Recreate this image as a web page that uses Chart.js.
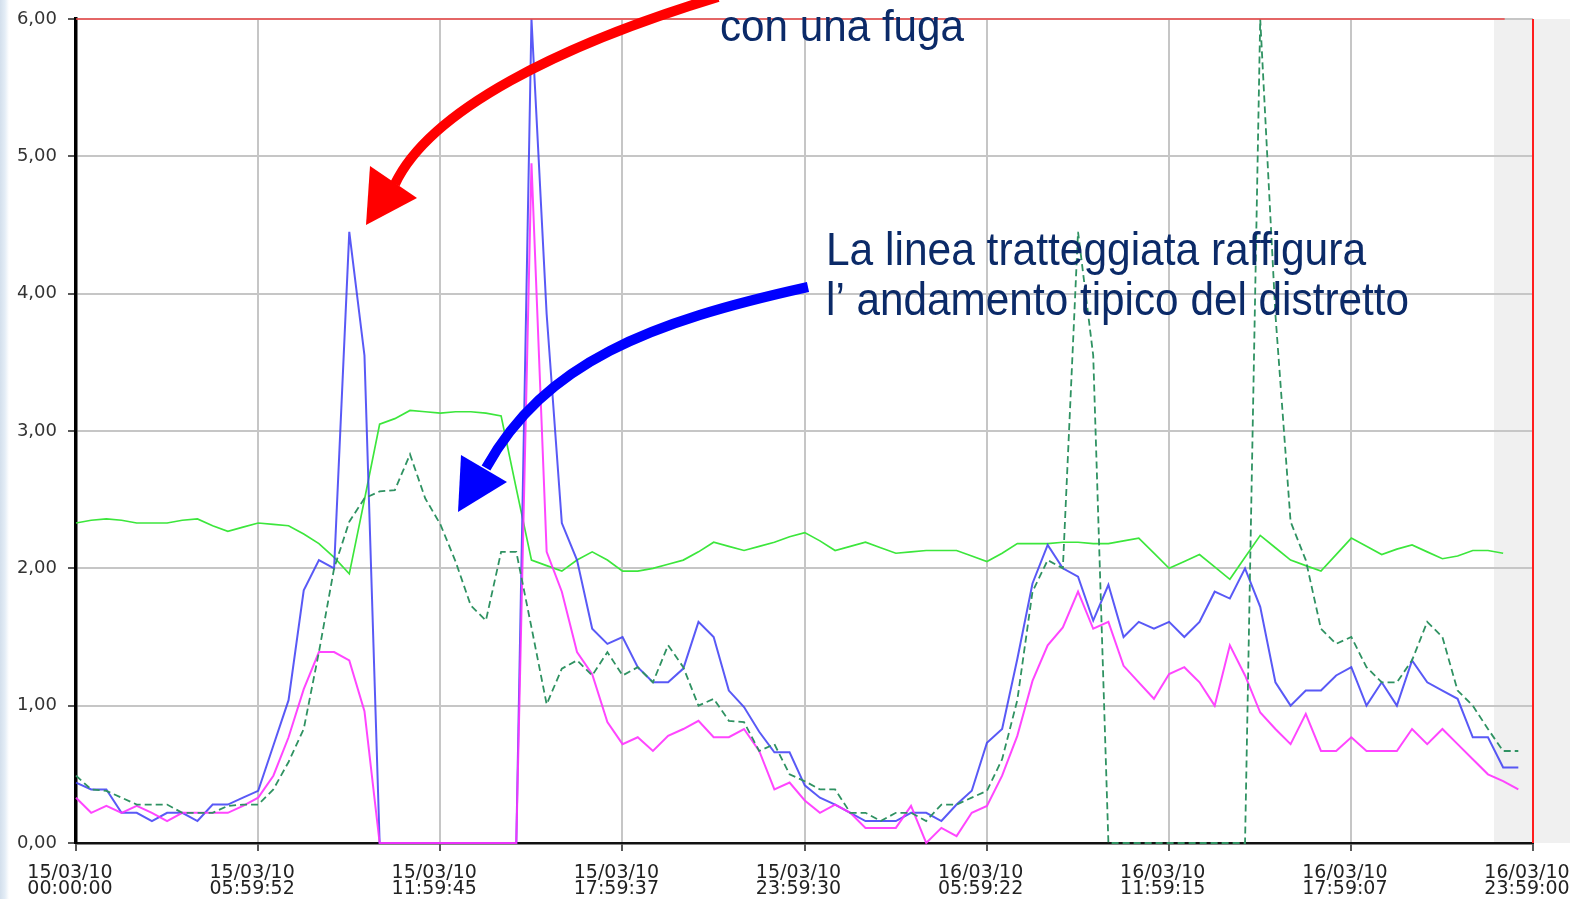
<!DOCTYPE html>
<html><head><meta charset="utf-8">
<script src="https://cdn.jsdelivr.net/npm/chart.js@4.4.1/dist/chart.umd.min.js"></script>
<style>
html,body{margin:0;padding:0;width:1586px;height:899px;overflow:hidden;}
body{background:linear-gradient(to right,#d3dfec 0px,#e4edf6 5px,#ffffff 9px);}
#wrap{position:absolute;left:0;top:0;width:1586px;height:899px;}
canvas{display:block;}
</style></head><body>
<div id="wrap"><canvas id="c" width="1586" height="899"></canvas></div>
<script>
// ---------- DATA ----------
const xTickLabels = [
  ["15/03/10","00:00:00"],["15/03/10","05:59:52"],["15/03/10","11:59:45"],
  ["15/03/10","17:59:37"],["15/03/10","23:59:30"],["16/03/10","05:59:22"],
  ["16/03/10","11:59:15"],["16/03/10","17:59:07"],["16/03/10","23:59:00"]
];
const yTickLabels = ["0,00","1,00","2,00","3,00","4,00","5,00","6,00"];
const AXIS_END_HOURS = 47 + 59/60;     // 16/03/10 23:59:00
const SAMPLE_STEP_HOURS = 0.5;         // one reading every 30 minutes

// blue: misure attuali (con la fuga)
const blueSeries = [
  0.44,0.39,0.39,0.22,0.22,0.16,0.22,0.22,0.16,0.28,0.28,0.33,0.38,0.71,1.04,1.84,2.06,2.00,4.45,3.55,0,0,0,0,0,
  0,0,0,0,0,6.00,3.85,2.33,2.06,1.56,1.45,1.50,1.28,1.17,1.17,1.27,1.61,1.50,1.11,0.99,0.81,0.66,0.66,0.42,
  0.33,0.28,0.22,0.16,0.16,0.16,0.22,0.22,0.16,0.28,0.38,0.73,0.83,1.34,1.89,2.17,2.00,1.94,1.62,1.88,1.50,1.61,1.56,1.61,
  1.50,1.61,1.83,1.78,2.00,1.72,1.17,1.00,1.11,1.11,1.22,1.28,1.00,1.17,1.00,1.33,1.17,1.11,1.05,0.77,0.77,0.55,0.55
];
// magenta
const pinkSeries = [
  0.33,0.22,0.27,0.22,0.27,0.22,0.16,0.22,0.22,0.22,0.22,0.27,0.33,0.49,0.77,1.12,1.39,1.39,1.33,0.96,0,0,0,0,0,
  0,0,0,0,0,4.95,2.12,1.83,1.39,1.23,0.88,0.72,0.77,0.67,0.78,0.83,0.89,0.77,0.77,0.83,0.67,0.39,0.44,0.31,
  0.22,0.28,0.22,0.11,0.11,0.11,0.27,0,0.11,0.05,0.22,0.27,0.49,0.78,1.18,1.44,1.57,1.83,1.56,1.61,1.29,1.17,1.05,1.23,
  1.28,1.17,1.00,1.44,1.22,0.95,0.83,0.72,0.94,0.67,0.67,0.77,0.67,0.67,0.67,0.83,0.72,0.83,0.72,0.61,0.50,0.45,0.39
];
// dashed: andamento tipico del distretto
const typicalSeries = [
  0.49,0.39,0.38,0.33,0.28,0.28,0.28,0.22,0.22,0.22,0.27,0.28,0.28,0.39,0.59,0.83,1.39,2.00,2.34,2.51,2.56,2.57,2.83,2.51,2.32,
  2.05,1.73,1.62,2.12,2.12,1.57,1.01,1.27,1.33,1.22,1.39,1.22,1.28,1.17,1.44,1.28,1.00,1.05,0.89,0.88,0.67,0.72,0.50,0.45,
  0.39,0.39,0.22,0.22,0.16,0.22,0.22,0.16,0.28,0.28,0.33,0.38,0.61,1.04,1.83,2.06,2.00,4.45,3.55,0,0,0,0,0,
  0,0,0,0,0,6.00,3.85,2.34,2.06,1.56,1.45,1.50,1.28,1.17,1.17,1.33,1.61,1.50,1.11,1.00,0.83,0.67,0.67
];
// light green
const greenSeries = [
  2.33,2.35,2.36,2.35,2.33,2.33,2.33,2.35,2.36,2.31,2.27,2.30,2.33,2.32,2.31,2.25,2.18,2.08,1.96,2.50,3.05,3.09,3.15,3.14,3.13,
  3.14,3.14,3.13,3.11,2.58,2.06,2.02,1.98,2.06,2.12,2.06,1.98,1.98,2.00,2.03,2.06,2.12,2.19,2.16,2.13,2.16,2.19,2.23,2.26,
  2.20,2.13,2.16,2.19,2.15,2.11,2.12,2.13,2.13,2.13,2.09,2.05,2.11,2.18,2.18,2.18,2.19,2.19,2.18,2.18,2.20,2.22,2.11,2.00,
  2.05,2.10,2.01,1.92,2.08,2.24,2.15,2.06,2.02,1.98,2.10,2.22,2.16,2.10,2.14,2.17,2.12,2.07,2.09,2.13,2.13,2.11
];

// ---------- BUILD ----------
const toPoints = arr => arr.map((v, i) => ({x: i * SAMPLE_STEP_HOURS, y: v}));
const xTickValues = xTickLabels.map((_, i) => i * AXIS_END_HOURS / (xTickLabels.length - 1));

const annotations = {
  texts: [
    {text: "con una fuga", left: 720, baseline: 41, width: 244, size: 44},
    {text: "La linea tratteggiata raffigura", left: 826, baseline: 265, width: 540, size: 46},
    {text: "l\u2019 andamento tipico del distretto", left: 826, baseline: 315, width: 583, size: 46}
  ],
  textColor: "#0b2a68"
};

const decorPlugin = {
  id: 'decor',
  beforeDraw(chart) {
    const {ctx, chartArea: a, scales: {x}} = chart;
    ctx.save();
    ctx.fillStyle = '#f0f0f0';
    const gx = x.getPixelForValue(46.7);
    ctx.fillRect(gx, a.top, 1570 - gx, a.bottom - a.top);
    ctx.restore();
  },
  afterDatasetsDraw(chart) {
    const {ctx, chartArea: a, scales: {x, y}} = chart;
    ctx.save();
    ctx.strokeStyle = 'rgba(238,70,70,0.75)';
    ctx.lineWidth = 2;
    ctx.beginPath();
    ctx.moveTo(a.left, y.getPixelForValue(6));
    ctx.lineTo(x.getPixelForValue(47.05), y.getPixelForValue(6));
    ctx.stroke();
    ctx.strokeStyle = '#ff1e1e';
    ctx.beginPath();
    ctx.moveTo(a.right, a.top);
    ctx.lineTo(a.right, a.bottom);
    ctx.stroke();
    ctx.restore();
  },
  afterDraw(chart) {
    const ctx = chart.ctx;
    ctx.save();
    annotations.texts.forEach(t => {
      ctx.save();
      ctx.font = t.size + 'px "Liberation Sans", Arial, sans-serif';
      const w = ctx.measureText(t.text).width;
      ctx.translate(t.left, t.baseline);
      ctx.scale(t.width / w, 1);
      ctx.fillStyle = annotations.textColor;
      ctx.textBaseline = 'alphabetic';
      ctx.fillText(t.text, 0, 0);
      ctx.restore();
    });
    // red arrow
    ctx.lineWidth = 10;
    ctx.lineCap = 'butt';
    ctx.strokeStyle = '#ff0000';
    ctx.fillStyle = '#ff0000';
    ctx.beginPath();
    ctx.moveTo(718, -3);
    ctx.bezierCurveTo(560, 45, 430, 110, 395, 184);
    ctx.stroke();
    ctx.beginPath();
    ctx.moveTo(366, 225); ctx.lineTo(370, 166); ctx.lineTo(417, 198); ctx.closePath(); ctx.fill();
    // blue arrow
    ctx.strokeStyle = '#0000ff';
    ctx.fillStyle = '#0000ff';
    ctx.beginPath();
    ctx.moveTo(808, 287);
    ctx.bezierCurveTo(650, 322, 545, 362, 486, 468);
    ctx.stroke();
    ctx.beginPath();
    ctx.moveTo(458, 512); ctx.lineTo(461, 455); ctx.lineTo(507, 482); ctx.closePath(); ctx.fill();
    ctx.restore();
  }
};

const lineDs = (data, color, extra) => Object.assign({
  data: toPoints(data), borderColor: color, borderWidth: 2, pointRadius: 0,
  tension: 0, fill: false, clip: false, spanGaps: false
}, extra || {});

new Chart(document.getElementById('c'), {
  type: 'line',
  data: {
    datasets: [
      lineDs(typicalSeries, '#2f9262', {borderDash: [7, 4], borderWidth: 1.8}),
      lineDs(pinkSeries, 'rgba(255,50,255,0.9)'),
      lineDs(blueSeries, 'rgba(60,60,245,0.85)'),
      lineDs(greenSeries, '#3ce63c', {borderWidth: 1.7})
    ]
  },
  options: {
    responsive: false,
    animation: false,
    devicePixelRatio: 1,
    layout: {padding: {top: 19, right: 53, left: 0, bottom: 0}},
    plugins: {legend: {display: false}, tooltip: {enabled: false}},
    scales: {
      x: {
        type: 'linear', min: 0, max: AXIS_END_HOURS,
        afterBuildTicks: s => { s.ticks = xTickValues.map(v => ({value: v})); },
        afterFit: s => { s.height = 56; s.paddingLeft = 0; s.paddingRight = 0; },
        grid: {color: '#c6c6c6', lineWidth: 2, tickColor: '#222', tickLength: 8, tickWidth: 1.5},
        border: {color: '#111', width: 2.5},
        ticks: {
          autoSkip: false, maxRotation: 0, minRotation: 0, padding: 14, labelOffset: -6,
          color: '#222', font: {family: '"DejaVu Sans", sans-serif', size: 19, lineHeight: '16px'},
          callback: (v, i) => xTickLabels[i]
        }
      },
      y: {
        min: 0, max: 6,
        afterFit: s => { s.width = 76; s.paddingTop = 0; s.paddingBottom = 0; },
        grid: {color: '#c6c6c6', lineWidth: 2, tickColor: '#222', tickLength: 8, tickWidth: 1.5},
        border: {color: '#000', width: 3.5},
        ticks: {
          stepSize: 1, padding: 11, color: '#333',
          font: {family: '"DejaVu Sans", sans-serif', size: 18},
          callback: (v, i) => yTickLabels[i]
        }
      }
    }
  },
  plugins: [decorPlugin]
});
</script>
</body></html>
